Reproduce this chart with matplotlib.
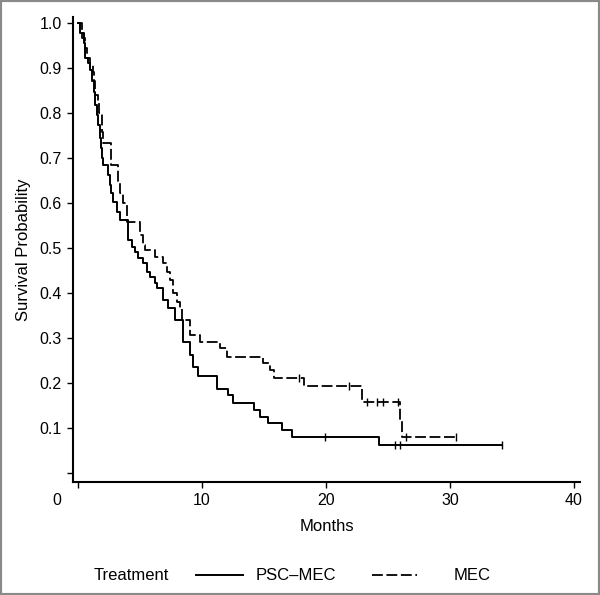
import numpy as np
import matplotlib.pyplot as plt
from matplotlib.lines import Line2D
from matplotlib.patches import Rectangle
from matplotlib.transforms import offset_copy

plt.rcParams['font.family'] = ['Liberation Sans', 'DejaVu Sans']

# PSC-MEC arm: step times (months) and survival after each step
psc_t = [0, 0.16, 0.48, 0.56, 0.8, 0.97, 1.13, 1.29, 1.37, 1.53, 1.61, 1.77, 1.85,
         1.94, 2.0, 2.42, 2.58, 2.66, 2.82, 3.15, 3.39, 4.03, 4.35, 4.6, 4.84, 5.24,
         5.56, 5.81, 6.21, 6.37, 6.85, 7.26, 7.82, 8.47, 9.03, 9.27, 9.68, 11.2,
         12.1, 12.5, 14.2, 14.7, 15.3, 16.5, 17.3, 24.3]
psc_s = [1.0, 0.978, 0.956, 0.922, 0.91, 0.896, 0.87, 0.847, 0.818, 0.796, 0.773,
         0.744, 0.722, 0.70, 0.684, 0.662, 0.64, 0.622, 0.602, 0.58, 0.562, 0.518,
         0.502, 0.49, 0.478, 0.467, 0.447, 0.435, 0.422, 0.41, 0.384, 0.367, 0.34,
         0.29, 0.262, 0.236, 0.216, 0.187, 0.173, 0.155, 0.14, 0.124, 0.111, 0.096,
         0.08, 0.062]
psc_end = 34.2
psc_cens = [19.9, 25.6, 26.0, 34.2]

# MEC arm
mec_t = [0, 0.32, 0.56, 0.73, 0.97, 1.21, 1.29, 1.37, 1.61, 1.69, 1.94, 2.02, 2.66,
         3.23, 3.39, 3.63, 3.95, 5.0, 5.24, 5.4, 6.21, 6.85, 7.18, 7.42, 7.66, 7.98,
         8.23, 8.39, 9.03, 9.84, 11.45, 12.0, 14.9, 15.5, 15.8, 18.2, 22.9, 25.97,
         26.13]
mec_s = [1.0, 0.967, 0.944, 0.922, 0.907, 0.89, 0.87, 0.84, 0.822, 0.80, 0.758,
         0.733, 0.684, 0.647, 0.622, 0.60, 0.558, 0.529, 0.507, 0.496, 0.48, 0.467,
         0.447, 0.429, 0.40, 0.38, 0.367, 0.34, 0.307, 0.291, 0.278, 0.258, 0.244,
         0.229, 0.211, 0.193, 0.158, 0.118, 0.08]
mec_end = 30.5
mec_cens = [17.8, 21.9, 23.3, 24.1, 24.6, 25.8, 26.5, 30.5]

x_ticks = [0, 10, 20, 30, 40]
y_ticks = [0, 0.1, 0.2, 0.3, 0.4, 0.5, 0.6, 0.7, 0.8, 0.9, 1.0]
y_labels = [''] + ['%.1f' % v for v in y_ticks[1:]]


def surv_at(times, surv, t):
    i = np.searchsorted(times, t, side='right') - 1
    return surv[i]


fig = plt.figure(figsize=(6, 5.95), dpi=100)
ax = fig.add_axes([73/600, 113/595, 507/600, 465/595])

ax.step(psc_t + [psc_end], psc_s + [psc_s[-1]], where='post', color='black', lw=1.4)
ax.step(mec_t + [mec_end], mec_s + [mec_s[-1]], where='post', color='black', lw=1.3,
        dashes=(6, 2))
ax.plot(psc_cens, [surv_at(psc_t, psc_s, c) for c in psc_cens], ls='none',
        marker='|', ms=6, mew=1.0, color='black')
ax.plot(mec_cens, [surv_at(mec_t, mec_s, c) for c in mec_cens], ls='none',
        marker='|', ms=6, mew=1.0, color='black')

ax.set_xlim(-0.4, 40.5)
ax.set_ylim(-0.02, 1.013)
ax.set_xticks(x_ticks)
ax.set_xticklabels([''] + [str(v) for v in x_ticks[1:]])
# the "0" label sits left of its tick in the original
zero_tr = offset_copy(ax.get_xaxis_transform(), fig=fig, y=-8, units='points')
ax.text(-1.7, 0, str(x_ticks[0]), ha='center', va='top', fontsize=11.5,
        transform=zero_tr, clip_on=False)
ax.set_yticks(y_ticks)
ax.set_yticklabels(y_labels)
ax.tick_params(direction='out', length=4, width=1, labelsize=11.5, pad=4)

for side in ['top', 'right']:
    ax.spines[side].set_visible(False)
for side in ['left', 'bottom']:
    ax.spines[side].set_linewidth(1.5)

ax.set_xlabel('Months', fontsize=12, labelpad=8)
ax.set_ylabel('Survival Probability', fontsize=12, labelpad=6)

# legend row
ly = 1 - 575/595
fig.text(131/600, ly, 'Treatment', ha='center', va='center', fontsize=12)
fig.add_artist(Line2D([196/600, 243/600], [ly, ly], color='black', lw=1.4))
fig.text(296/600, ly, 'PSC\u2013MEC', ha='center', va='center', fontsize=12)
fig.add_artist(Line2D([372/600, 417/600], [ly, ly], color='black', lw=1.3, dashes=(6, 2)))
fig.text(472/600, ly, 'MEC', ha='center', va='center', fontsize=12)

fig.add_artist(Rectangle((0, 0), 1, 1, transform=fig.transFigure, fill=False,
                         edgecolor='#8a8a8a', lw=3))

fig.savefig('out.png', dpi=100)
plt.close()
